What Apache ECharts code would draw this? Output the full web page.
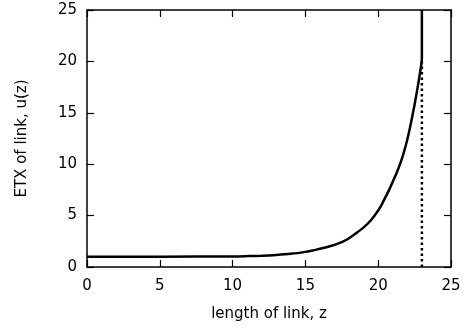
<!DOCTYPE html>
<html>
<head>
<meta charset="utf-8">
<script src="https://cdn.jsdelivr.net/npm/echarts@6/dist/echarts.min.js"></script>
<style>
  html, body { margin: 0; padding: 0; background: #fff; }
  #chart { width: 472px; height: 334px; }
</style>
</head>
<body>
<div id="chart"></div>
<script>
// ETX curve
const linkLength = [0, 5, 10, 11, 12, 13, 14, 15, 15.5, 16, 16.5, 17, 17.5, 18, 18.5, 19, 19.5, 20,
  20.25, 20.5, 20.75, 21, 21.25, 21.5, 21.75, 22, 22.25, 22.5, 22.7, 22.85, 22.95, 23, 23];
const etx = [1, 1, 1.03, 1.06, 1.1, 1.17, 1.28, 1.47, 1.6, 1.78, 1.95, 2.15, 2.42, 2.8, 3.3, 3.85, 4.55, 5.5,
  6.1, 6.8, 7.5, 8.3, 9.1, 10.0, 11.1, 12.4, 14.0, 15.8, 17.4, 18.7, 19.6, 20.3, 25];

// dotted limit line
const limitX = [23, 23];
const limitY = [0, 20];

const chart = echarts.init(document.getElementById('chart'));

const font = 'DejaVu Sans, sans-serif';
const axisLine = { onZero: false, lineStyle: { color: '#000', width: 1.5 } };
const tickIn = { inside: true, length: 7, lineStyle: { color: '#000', width: 1.2 } };
const labelStyle = { fontFamily: font, fontSize: 15, color: '#000' };

const option = {
  animation: false,
  grid: { left: 87, right: 21, top: 10, bottom: 67 },
  xAxis: [
    {
      type: 'value', min: 0, max: 25, interval: 5,
      name: 'length of link, z', nameLocation: 'middle', nameGap: 40,
      nameTextStyle: labelStyle,
      axisLine, axisTick: tickIn,
      axisLabel: { ...labelStyle, margin: 12 },
      splitLine: { show: false }
    },
    {
      type: 'value', min: 0, max: 25, interval: 5, position: 'top',
      axisLine, axisTick: tickIn, axisLabel: { show: false }, splitLine: { show: false }
    }
  ],
  yAxis: [
    {
      type: 'value', min: 0, max: 25, interval: 5,
      name: 'ETX of link, u(z)', nameLocation: 'middle', nameGap: 57,
      nameTextStyle: labelStyle,
      axisLine, axisTick: tickIn,
      axisLabel: { ...labelStyle, margin: 10 },
      splitLine: { show: false }
    },
    {
      type: 'value', min: 0, max: 25, interval: 5, position: 'right',
      axisLine, axisTick: tickIn, axisLabel: { show: false }, splitLine: { show: false }
    }
  ],
  series: [
    {
      type: 'line',
      data: limitX.map((x, i) => [x, limitY[i]]),
      showSymbol: false,
      lineStyle: { color: '#000', width: 2.5, type: [2.5, 3] }
    },
    {
      type: 'line',
      data: linkLength.map((z, i) => [z, etx[i]]),
      showSymbol: false,
      smooth: 0.25,
      lineStyle: { color: '#000', width: 2.5 }
    }
  ]
};

chart.setOption(option);
</script>
</body>
</html>
